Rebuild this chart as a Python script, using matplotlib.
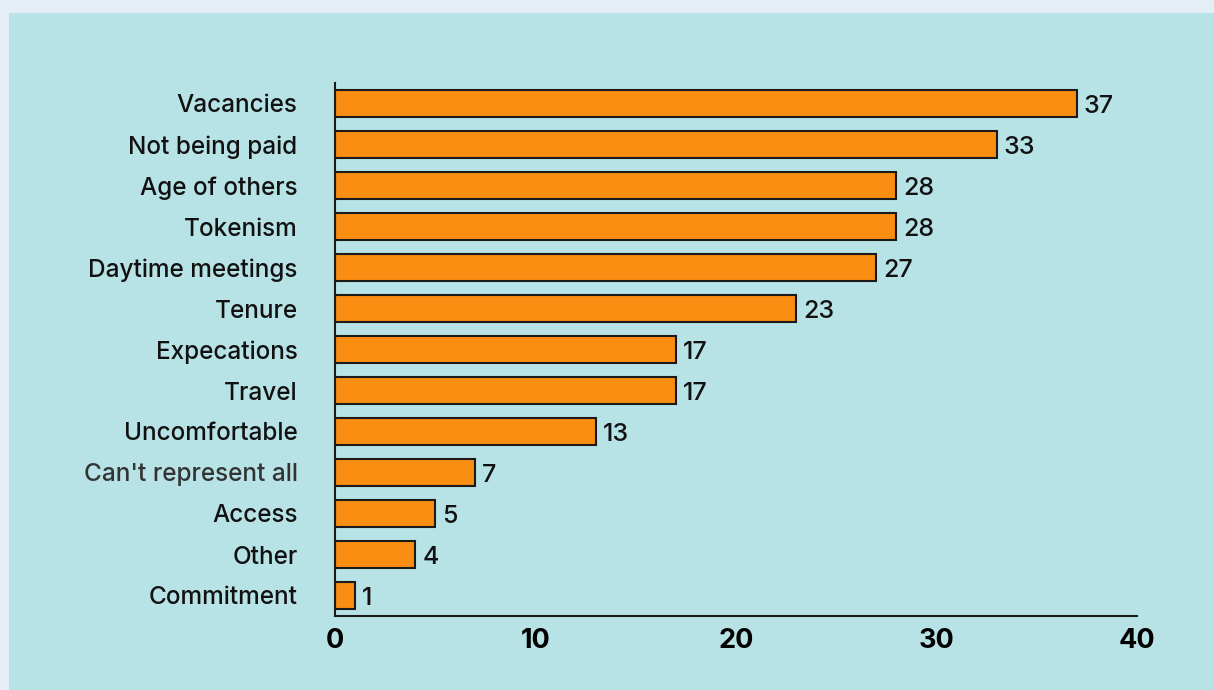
import matplotlib.pyplot as plt
from matplotlib.patches import Rectangle

categories = ["Vacancies", "Not being paid", "Age of others", "Tokenism",
              "Daytime meetings", "Tenure", "Expecations", "Travel",
              "Uncomfortable", "Can't represent all", "Access", "Other",
              "Commitment"]
counts = [37, 33, 28, 28, 27, 23, 17, 17, 13, 7, 5, 4, 1]
x_ticks = [0, 10, 20, 30, 40]

plt.rcParams['font.family'] = ['Inter', 'DejaVu Sans']

fig = plt.figure(figsize=(12.14, 6.9), dpi=100)
fig.patch.set_facecolor('#e4eef6')
# light blue panel behind the chart
panel = Rectangle((9 / 1214, 0), 1, 1 - 13 / 690, transform=fig.transFigure,
                  facecolor='#b8e3e6', edgecolor='none', zorder=-10)
fig.add_artist(panel)

ax = fig.add_axes([335 / 1214, 1 - 616 / 690, 802 / 1214, 533 / 690])
ax.set_zorder(1)
ax.set_facecolor('none')

y = list(range(len(categories)))
ax.barh(y, counts, height=0.66, color='#f98e13', edgecolor='#1a1a1a', linewidth=1.5, zorder=2)

for yi, v in zip(y, counts):
    ax.text(v + 0.35, yi + 0.08, str(v), va='center', ha='left', fontsize=18,
            fontweight='medium', color='#111111')

ax.set_yticks(y)
ax.set_yticklabels(categories, fontsize=17.5, fontweight='medium')
for lbl in ax.get_yticklabels():
    lbl.set_color('#333333' if lbl.get_text() == "Can't represent all" else '#111111')
ax.set_ylim(len(categories) - 0.5, -0.5)

ax.set_xlim(0, 40)
ax.set_xticks(x_ticks)
ax.set_xticklabels([str(t) for t in x_ticks], fontsize=19.5, fontweight='bold')

ax.tick_params(axis='both', length=0)
ax.tick_params(axis='y', pad=27)
ax.tick_params(axis='x', pad=9)

for s in ['top', 'right']:
    ax.spines[s].set_visible(False)
for s in ['left', 'bottom']:
    ax.spines[s].set_linewidth(1.5)
    ax.spines[s].set_color('#1a1a1a')

fig.savefig('out.png', dpi=100, facecolor=fig.get_facecolor())
